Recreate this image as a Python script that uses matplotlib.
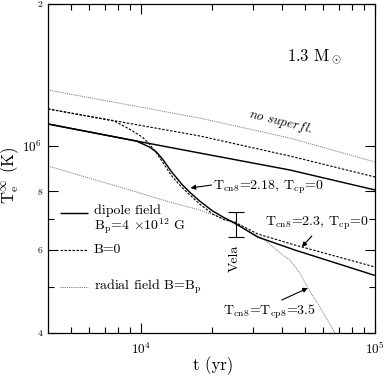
import matplotlib
matplotlib.use("Agg")
import matplotlib.pyplot as plt
from matplotlib.ticker import FixedLocator, NullFormatter

plt.rcParams['font.family'] = ['cmr10', 'DejaVu Serif']
plt.rcParams['mathtext.fontset'] = 'cm'
plt.rcParams['axes.formatter.use_mathtext'] = True
plt.rcParams['axes.unicode_minus'] = False

# ---- data (t in yr, Te in K) ----
t_nosf_radial = [4000, 17780, 43230, 100000]
T_nosf_radial = [1.313e6, 1.145e6, 1.038e6, 9.234e5]

t_nosf_b0 = [4000, 17780, 43230, 100000]
T_nosf_b0 = [1.197e6, 1.049e6, 9.508e5, 8.581e5]

t_nosf_dip = [4000, 9547, 17780, 43230, 100000]
T_nosf_dip = [1.112e6, 1.023e6, 9.649e5, 8.880e5, 8.053e5]

t_sf_dip = [4000, 9547, 10855, 11630, 12340, 13620, 15030, 16110, 17780,
            20210, 22750, 25110, 31510, 37270, 45410, 100000]
T_sf_dip = [1.112e6, 1.023e6, 9.937e5, 9.696e5, 9.370e5, 8.750e5, 8.252e5,
            7.974e5, 7.631e5, 7.267e5, 7.023e5, 6.851e5, 6.397e5, 6.212e5,
            6.003e5, 5.30e5]

t_sf_b0 = [4000, 7685, 8909, 10130, 10855, 11630, 12340, 13620, 15030, 17780,
           20210, 22750, 25110, 31510, 45410, 100000]
T_sf_b0 = [1.197e6, 1.128e6, 1.085e6, 1.043e6, 1.008e6, 9.649e5, 9.234e5,
           8.581e5, 8.131e5, 7.519e5, 7.161e5, 6.955e5, 6.885e5, 6.493e5,
           6.152e5, 5.524e5]

t_sf_radial = [4000, 8650, 13220, 17780, 22750, 27720, 33770, 40340, 43230,
               47720, 51630, 58120, 67390, 70000]
T_sf_radial = [9.055e5, 8.092e5, 7.594e5, 7.302e5, 6.989e5, 6.653e5, 6.304e5,
               5.858e5, 5.717e5, 5.364e5, 4.984e5, 4.543e5, 4.0e5, 3.85e5]

vela_t = 25400
vela_T_low = 6.40e5
vela_T_high = 7.23e5

ytick_vals = [4e5, 6e5, 8e5, 1e6, 2e6]
ytick_labels = ['4', '6', '8', r'$10^6$', '2']
yminor_vals = [5e5, 7e5]
xtick_vals = [1e4, 1e5]
xtick_labels = [r'$10^4$', r'$10^5$']
xminor_vals = [5e3, 6e3, 7e3, 8e3, 9e3, 2e4, 3e4, 4e4, 5e4, 6e4, 7e4, 8e4, 9e4]

# ---- figure ----
fig = plt.figure(figsize=(3.86, 3.80), dpi=100)
ax = fig.add_axes([48/386, 47/380, 327/386, 329/380])
ax.set_xscale('log')
ax.set_yscale('log')
ax.set_xlim(4e3, 1e5)
ax.set_ylim(4e5, 2e6)

gray = '#808080'
dip_kw = dict(color='k', lw=1.05, solid_capstyle='butt')
b0_kw = dict(color='k', lw=0.8, linestyle=(0, (2.2, 1.4)))
rad_kw = dict(color=gray, lw=0.7, linestyle=(0, (1.2, 1.0)))

ax.plot(t_nosf_radial, T_nosf_radial, **rad_kw)
ax.plot(t_nosf_b0, T_nosf_b0, **b0_kw)
ax.plot(t_nosf_dip, T_nosf_dip, **dip_kw)
ax.plot(t_sf_radial, T_sf_radial, **rad_kw)
ax.plot(t_sf_b0, T_sf_b0, **b0_kw)
ax.plot(t_sf_dip, T_sf_dip, **dip_kw)

# Vela error bar
vmid = (vela_T_low * vela_T_high) ** 0.5
ax.errorbar([vela_t], [vmid], yerr=[[vmid - vela_T_low], [vela_T_high - vmid]],
            fmt='none', ecolor='k', elinewidth=0.8, capsize=5.5, capthick=0.8)
ax.text(0.570, 0.228, 'Vela', transform=ax.transAxes, rotation=90,
        ha='center', va='center', fontsize=10)

# ticks
ax.xaxis.set_major_locator(FixedLocator(xtick_vals))
ax.set_xticklabels(xtick_labels, fontsize=9.5)
ax.xaxis.set_minor_locator(FixedLocator(xminor_vals))
ax.xaxis.set_minor_formatter(NullFormatter())
ax.yaxis.set_major_locator(FixedLocator(ytick_vals))
ax.set_yticklabels(ytick_labels)
for lab, v in zip(ax.get_yticklabels(), ytick_vals):
    lab.set_fontsize(9.5 if v == 1e6 else 7)
ax.yaxis.set_minor_locator(FixedLocator(yminor_vals))
ax.yaxis.set_minor_formatter(NullFormatter())
ax.tick_params(which='both', direction='in', top=True, right=True, width=0.8)
ax.tick_params(which='major', length=7)
ax.tick_params(axis='x', which='major', pad=6)
ax.tick_params(axis='y', which='major', pad=4)
ax.tick_params(which='minor', length=4)
for s in ax.spines.values():
    s.set_linewidth(0.9)

ax.set_xlabel('t (yr)', fontsize=12)
ax.xaxis.set_label_coords(0.505, -0.072)
ax.set_ylabel(r'T$_\mathrm{e}^\infty$ (K)', fontsize=12)
ax.yaxis.set_label_coords(-0.082, 0.48)

# texts
ax.text(0.731, 0.839, r'1.3 M$_\odot$', transform=ax.transAxes,
        ha='left', va='center', fontsize=12)
ax.text(0.7125, 0.640, r'$\mathit{no\ superfl.}$', transform=ax.transAxes,
        ha='center', va='center', fontsize=9.5, rotation=-14)

arrow_kw = dict(arrowstyle='-|>', lw=0.8, color='k', mutation_scale=7,
                shrinkA=0, shrinkB=0)
ax.annotate('', xy=(16270, 8.131e5), xytext=(20000, 8.25e5), arrowprops=arrow_kw)
ax.text(0.5046, 0.4438, r'T$_\mathrm{cn8}$=2.18, T$_\mathrm{cp}$=0',
        transform=ax.transAxes, ha='left', va='center', fontsize=10)
ax.annotate('', xy=(48670, 6.093e5), xytext=(53700, 6.43e5), arrowprops=arrow_kw)
ax.text(0.6636, 0.3343, r'T$_\mathrm{cn8}$=2.3, T$_\mathrm{cp}$=0',
        transform=ax.transAxes, ha='left', va='center', fontsize=10)
ax.annotate('', xy=(51630, 4.984e5), xytext=(39950, 4.70e5), arrowprops=arrow_kw)
ax.text(0.5352, 0.0638, r'T$_\mathrm{cn8}$=T$_\mathrm{cp8}$=3.5',
        transform=ax.transAxes, ha='left', va='center', fontsize=10)

# legend (manual)
hx = [0.0367, 0.1223]
tx = 0.1407
ax.plot(hx, [0.3647, 0.3647], transform=ax.transAxes, **dip_kw)
ax.text(tx, 0.3708, 'dipole field', transform=ax.transAxes, ha='left', va='center', fontsize=10)
ax.text(tx, 0.3252, r'B$_\mathrm{p}$=4 $\times$10$^{12}$ G', transform=ax.transAxes,
        ha='left', va='center', fontsize=10)
ax.plot(hx, [0.2523, 0.2523], transform=ax.transAxes, **b0_kw)
ax.text(tx, 0.2523, 'B=0', transform=ax.transAxes, ha='left', va='center', fontsize=10)
ax.plot(hx, [0.1398, 0.1398], transform=ax.transAxes, **rad_kw)
ax.text(tx, 0.1398, r'radial field B=B$_\mathrm{p}$', transform=ax.transAxes,
        ha='left', va='center', fontsize=10)

fig.savefig('out.png', dpi=100)
